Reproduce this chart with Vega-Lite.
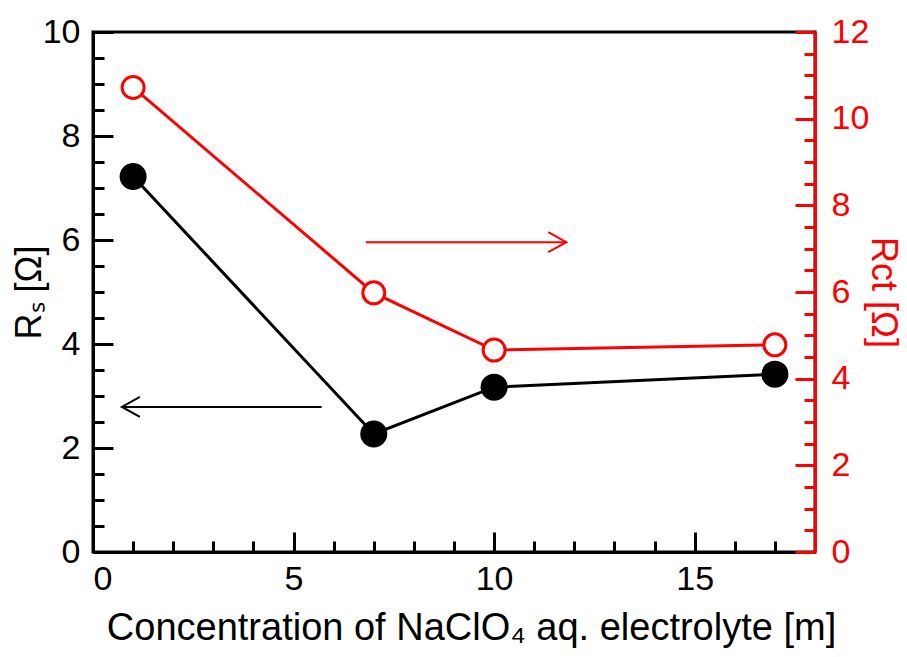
{
  "$schema": "https://vega.github.io/schema/vega-lite/v6.json",
  "width": 722,
  "height": 520,
  "autosize": "none",
  "padding": {"left": 93, "top": 32, "right": 92, "bottom": 105},
  "background": "white",
  "datasets": {
    "rs": [
      {"conc": 1, "Rs": 7.22},
      {"conc": 7, "Rs": 2.27},
      {"conc": 10, "Rs": 3.17},
      {"conc": 17, "Rs": 3.42}
    ],
    "rct": [
      {"conc": 1, "Rct": 10.72},
      {"conc": 7, "Rct": 5.98},
      {"conc": 10, "Rct": 4.66},
      {"conc": 17, "Rct": 4.78}
    ],
    "arrows": [
      {"series": "Rs", "from": 5.7, "to": 0.72, "level": 2.79},
      {"series": "Rct", "from": 6.8, "to": 11.8, "level": 7.15}
    ]
  },
  "layer": [
    {
      "data": {"name": "rs"},
      "mark": {"type": "point", "opacity": 0},
      "encoding": {
        "x": {"field": "conc", "type": "quantitative", "scale": {"domain": [0, 18], "nice": false},
          "axis": {"orient": "bottom", "values": [1,2,3,4,6,7,8,9,11,12,13,14,16,17], "labels": false, "title": null, "domain": false, "tickSize": -11, "tickColor": "black"}},
        "y": {"field": "Rs", "type": "quantitative", "scale": {"domain": [0, 10], "nice": false},
          "axis": {"orient": "left", "values": [0.5,1,1.5,2.5,3,3.5,4.5,5,5.5,6.5,7,7.5,8.5,9,9.5], "labels": false, "title": null, "domain": false, "tickSize": -11, "tickColor": "black"}}
      }
    },
    {
      "data": {"name": "rct"},
      "mark": {"type": "point", "opacity": 0},
      "encoding": {
        "x": {"field": "conc", "type": "quantitative", "scale": {"domain": [0, 18], "nice": false}, "axis": null},
        "y": {"field": "Rct", "type": "quantitative", "scale": {"domain": [0, 12], "nice": false},
          "axis": {"orient": "right", "values": [0.5,1,1.5,2.5,3,3.5,4.5,5,5.5,6.5,7,7.5,8.5,9,9.5,10.5,11,11.5], "labels": false, "title": null, "domain": false, "tickSize": -11, "tickColor": "#ff0000"}}
      }
    },
    {
      "data": {"name": "rs"},
      "mark": {"type": "line", "color": "black", "strokeWidth": 3},
      "encoding": {
        "x": {"field": "conc", "type": "quantitative", "scale": {"domain": [0, 18], "nice": false},
          "axis": {"orient": "bottom", "values": [0, 5, 10, 15], "tickSize": -20, "labelPadding": 30, "title": "Concentration of NaClO₄ aq. electrolyte [m]", "titleFontSize": 38, "titlePadding": 13, "titleX": 378, "domainColor": "black", "tickColor": "black", "labelColor": "black", "titleColor": "black"}},
        "y": {"field": "Rs", "type": "quantitative", "scale": {"domain": [0, 10], "nice": false},
          "axis": {"orient": "left", "values": [0, 2, 4, 6, 8, 10], "tickSize": -20, "labelPadding": 33, "title": "Rₛ [Ω]", "titlePadding": -6, "domainColor": "black", "tickColor": "black", "labelColor": "black", "titleColor": "black"}}
      }
    },
    {
      "data": {"name": "rs"},
      "mark": {"type": "point", "shape": "circle", "filled": true, "color": "black", "size": 729, "opacity": 1},
      "encoding": {
        "x": {"field": "conc", "type": "quantitative", "scale": {"domain": [0, 18], "nice": false}, "axis": null},
        "y": {"field": "Rs", "type": "quantitative", "scale": {"domain": [0, 10], "nice": false}, "axis": null}
      }
    },
    {
      "data": {"name": "rct"},
      "mark": {"type": "line", "color": "#ff0000", "strokeWidth": 3},
      "encoding": {
        "x": {"field": "conc", "type": "quantitative", "scale": {"domain": [0, 18], "nice": false}, "axis": null},
        "y": {"field": "Rct", "type": "quantitative", "scale": {"domain": [0, 12], "nice": false},
          "axis": {"orient": "right", "values": [0, 2, 4, 6, 8, 10, 12], "tickSize": -20, "labelPadding": 36, "title": "Rct [Ω]", "titlePadding": -5, "domainColor": "#ff0000", "tickColor": "#ff0000", "labelColor": "#ff0000", "titleColor": "#ff0000"}}
      }
    },
    {
      "data": {"name": "rct"},
      "mark": {"type": "point", "shape": "circle", "filled": true, "fill": "white", "stroke": "#ff0000", "strokeWidth": 3, "size": 484, "opacity": 1},
      "encoding": {
        "x": {"field": "conc", "type": "quantitative", "scale": {"domain": [0, 18], "nice": false}, "axis": null},
        "y": {"field": "Rct", "type": "quantitative", "scale": {"domain": [0, 12], "nice": false}, "axis": null}
      }
    },
    {
      "data": {"name": "arrows"},
      "transform": [{"filter": "datum.series === 'Rs'"}],
      "mark": {"type": "rule", "color": "black", "strokeWidth": 2},
      "encoding": {
        "x": {"field": "from", "type": "quantitative", "scale": {"domain": [0, 18], "nice": false}, "axis": null},
        "x2": {"field": "to"},
        "y": {"field": "level", "type": "quantitative", "scale": {"domain": [0, 10], "nice": false}, "axis": null}
      }
    },
    {
      "data": {"name": "arrows"},
      "transform": [{"filter": "datum.series === 'Rs'"}],
      "mark": {"type": "point", "shape": "M1.8,-1L0,0L1.8,1", "filled": false, "stroke": "black", "strokeWidth": 2, "size": 400, "opacity": 1},
      "encoding": {
        "x": {"field": "to", "type": "quantitative", "scale": {"domain": [0, 18], "nice": false}, "axis": null},
        "y": {"field": "level", "type": "quantitative", "scale": {"domain": [0, 10], "nice": false}, "axis": null}
      }
    },
    {
      "data": {"name": "arrows"},
      "transform": [{"filter": "datum.series === 'Rct'"}],
      "mark": {"type": "rule", "color": "#ff0000", "strokeWidth": 2},
      "encoding": {
        "x": {"field": "from", "type": "quantitative", "scale": {"domain": [0, 18], "nice": false}, "axis": null},
        "x2": {"field": "to"},
        "y": {"field": "level", "type": "quantitative", "scale": {"domain": [0, 12], "nice": false}, "axis": null}
      }
    },
    {
      "data": {"name": "arrows"},
      "transform": [{"filter": "datum.series === 'Rct'"}],
      "mark": {"type": "point", "shape": "M-1.8,-1L0,0L-1.8,1", "filled": false, "stroke": "#ff0000", "strokeWidth": 2, "size": 400, "opacity": 1},
      "encoding": {
        "x": {"field": "to", "type": "quantitative", "scale": {"domain": [0, 18], "nice": false}, "axis": null},
        "y": {"field": "level", "type": "quantitative", "scale": {"domain": [0, 12], "nice": false}, "axis": null}
      }
    }
  ],
  "resolve": {"scale": {"x": "independent", "y": "independent"}},
  "config": {
    "view": {"stroke": "black", "strokeWidth": 3},
    "axis": {
      "grid": false,
      "labelFont": "Liberation Sans",
      "titleFont": "Liberation Sans",
      "labelFontSize": 34,
      "titleFontSize": 36,
      "titleFontWeight": "normal",
      "domainWidth": 3,
      "tickWidth": 3
    }
  }
}
